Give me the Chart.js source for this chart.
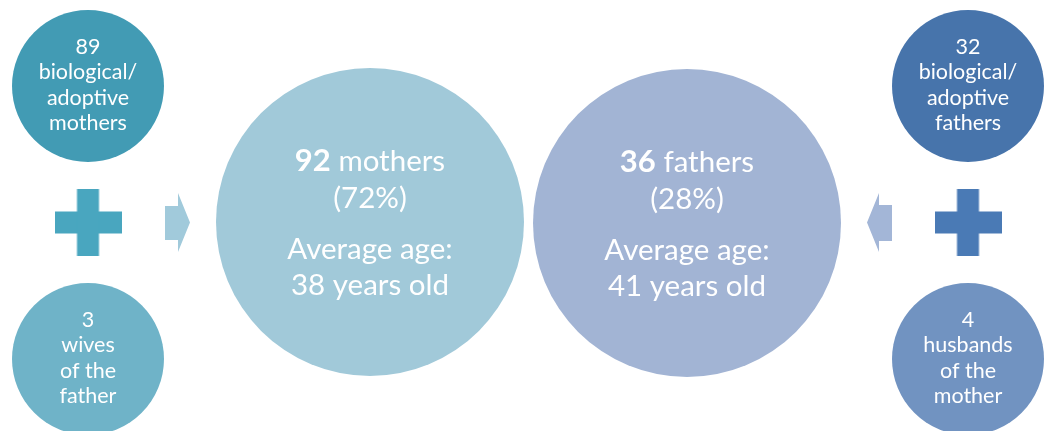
<!DOCTYPE html>
<html>
<head>
<meta charset="utf-8">
<script src="https://cdn.jsdelivr.net/npm/chart.js@4.4.1/dist/chart.umd.min.js"></script>
<style>
  html, body { margin: 0; padding: 0; background: #ffffff; overflow: hidden; }
  #wrap { width: 1049px; height: 431px; }
  canvas { display: block; }
</style>
</head>
<body>
<div id="wrap"><canvas id="c" width="1049" height="431"></canvas></div>
<script>
// ---- data ----
const groups = ['mothers', 'fathers'];
const totals = [92, 36];
const shares = [72, 28];
const averageAges = [38, 41];
const biologicalAdoptive = [89, 32];
const stepParents = [3, 4];
const stepLabels = [['wives', 'of the', 'father'], ['husbands', 'of the', 'mother']];
const bioLabels = [['biological/', 'adoptive', 'mothers'], ['biological/', 'adoptive', 'fathers']];

// ---- layout (in pixel-like scale units) ----
const layout = {
  mainX: [370, 687], mainY: 222, mainR: 154,
  sideX: [88, 968], topY: 86, bottomY: 359, sideR: 76,
  plusY: 222.5, arrowX: [177.5, 879.5], arrowY: 222.5
};
const colors = {
  main: ['#A1C9D9', '#A2B4D4'],
  top: ['#429BB4', '#4774AB'],
  bottom: ['#6FB3C8', '#7193C1'],
  plus: ['#49A6BF', '#4A7AB5'],
  arrow: ['#A1CADB', '#A3B6D7']
};

function makePlus(color) {
  const c = document.createElement('canvas');
  c.width = 67; c.height = 67;
  const g = c.getContext('2d');
  g.fillStyle = color;
  g.fillRect(0, 22.5, 67, 22);
  g.fillRect(22.5, 0, 22, 67);
  return c;
}
function makeArrow(color, dir) {
  const c = document.createElement('canvas');
  c.width = 25; c.height = 59;
  const g = c.getContext('2d');
  g.fillStyle = color;
  g.beginPath();
  if (dir > 0) {
    g.moveTo(0, 13); g.lineTo(13, 13); g.lineTo(13, 0); g.lineTo(25, 29.5);
    g.lineTo(13, 59); g.lineTo(13, 47); g.lineTo(0, 47);
  } else {
    g.moveTo(25, 12); g.lineTo(12, 12); g.lineTo(12, 0); g.lineTo(0, 29.5);
    g.lineTo(12, 59); g.lineTo(12, 48); g.lineTo(25, 48);
  }
  g.closePath(); g.fill();
  return c;
}

const FONT = 'Lato';
const textPlugin = {
  id: 'circleText',
  afterDatasetsDraw(chart) {
    const ctx = chart.ctx;
    ctx.save();
    ctx.fillStyle = '#ffffff';
    ctx.textBaseline = 'alphabetic';
    // main circles
    const mainMeta = chart.getDatasetMeta(0);
    mainMeta.data.forEach((el, i) => {
      const cx = el.x, cy = el.y;
      const fs = 29.5;
      const boldPart = String(totals[i]);
      const restPart = ' ' + groups[i];
      ctx.font = `bold ${fs + 1.5}px ${FONT}`;
      const wb = ctx.measureText(boldPart).width;
      ctx.font = `${fs}px ${FONT}`;
      const wr = ctx.measureText(restPart).width;
      const x0 = cx - (wb + wr) / 2;
      ctx.textAlign = 'left';
      ctx.font = `bold ${fs + 1.5}px ${FONT}`;
      ctx.fillText(boldPart, x0, cy - 51);
      ctx.font = `${fs}px ${FONT}`;
      ctx.fillText(restPart, x0 + wb, cy - 51);
      ctx.textAlign = 'center';
      ctx.fillText('(' + shares[i] + '%)', cx, cy - 14);
      ctx.fillText('Average age:', cx, cy + 37);
      ctx.fillText(averageAges[i] + ' years old', cx, cy + 73);
    });
    // small circles
    const drawLines = (el, lines) => {
      ctx.font = `21.5px ${FONT}`;
      ctx.textAlign = 'center';
      lines.forEach((t, k) => ctx.fillText(t, el.x, el.y - 32.5 + k * 25.6));
    };
    chart.getDatasetMeta(1).data.forEach((el, i) => {
      drawLines(el, [String(biologicalAdoptive[i])].concat(bioLabels[i]));
    });
    chart.getDatasetMeta(2).data.forEach((el, i) => {
      drawLines(el, [String(stepParents[i])].concat(stepLabels[i]));
    });
    ctx.restore();
  }
};

new Chart(document.getElementById('c'), {
  type: 'bubble',
  data: {
    datasets: [
      {
        label: 'parents',
        data: groups.map((g, i) => ({ x: layout.mainX[i], y: layout.mainY + (i ? 1 : 0), r: layout.mainR })),
        backgroundColor: colors.main, borderWidth: 0, hoverBorderWidth: 0
      },
      {
        label: 'biological/adoptive',
        data: groups.map((g, i) => ({ x: layout.sideX[i], y: layout.topY, r: layout.sideR })),
        backgroundColor: colors.top, borderWidth: 0, hoverBorderWidth: 0
      },
      {
        label: 'step-parents',
        data: groups.map((g, i) => ({ x: layout.sideX[i], y: layout.bottomY, r: layout.sideR })),
        backgroundColor: colors.bottom, borderWidth: 0, hoverBorderWidth: 0
      },
      {
        type: 'scatter',
        label: 'plus',
        data: groups.map((g, i) => ({ x: layout.sideX[i], y: layout.plusY })),
        pointStyle: colors.plus.map(makePlus), pointRadius: 34, borderWidth: 0
      },
      {
        type: 'scatter',
        label: 'arrow',
        data: groups.map((g, i) => ({ x: layout.arrowX[i], y: layout.arrowY })),
        pointStyle: [makeArrow(colors.arrow[0], 1), makeArrow(colors.arrow[1], -1)],
        pointRadius: 30, borderWidth: 0
      }
    ]
  },
  options: {
    responsive: false,
    animation: false,
    events: [],
    layout: { padding: 0, autoPadding: false },
    plugins: { legend: { display: false }, tooltip: { enabled: false } },
    scales: {
      x: { type: 'linear', min: 0, max: 1049, display: false },
      y: { type: 'linear', min: 0, max: 431, reverse: true, display: false }
    }
  },
  plugins: [textPlugin]
});
</script>
</body>
</html>
